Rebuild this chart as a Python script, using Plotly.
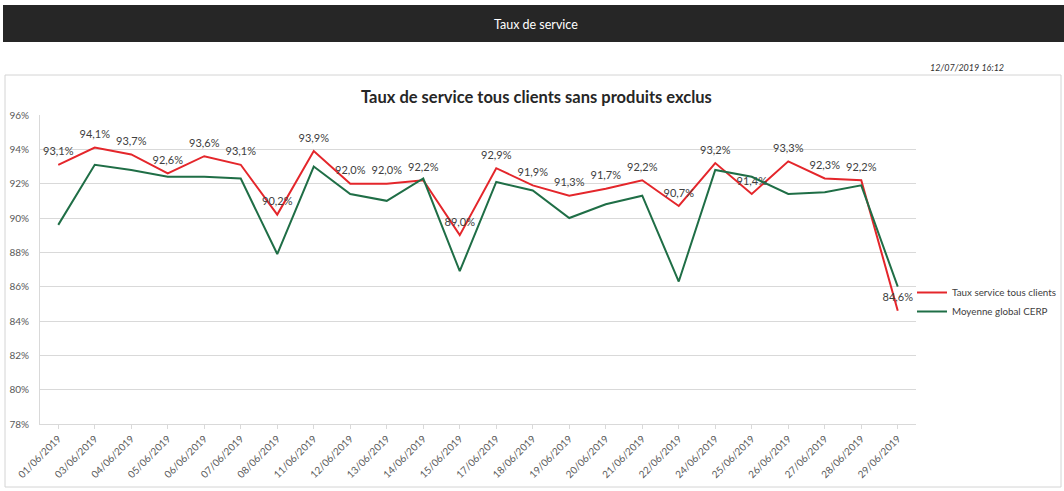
import plotly.graph_objects as go

dates = ["01/06/2019", "03/06/2019", "04/06/2019", "05/06/2019", "06/06/2019", "07/06/2019",
         "08/06/2019", "11/06/2019", "12/06/2019", "13/06/2019", "14/06/2019", "15/06/2019",
         "17/06/2019", "18/06/2019", "19/06/2019", "20/06/2019", "21/06/2019", "22/06/2019",
         "24/06/2019", "25/06/2019", "26/06/2019", "27/06/2019", "28/06/2019", "29/06/2019"]
taux_service = [93.1, 94.1, 93.7, 92.6, 93.6, 93.1, 90.2, 93.9, 92.0, 92.0, 92.2, 89.0,
                92.9, 91.9, 91.3, 91.7, 92.2, 90.7, 93.2, 91.4, 93.3, 92.3, 92.2, 84.6]
moyenne_cerp = [89.6, 93.1, 92.8, 92.4, 92.4, 92.3, 87.9, 93.0, 91.4, 91.0, 92.3, 86.9,
                92.1, 91.6, 90.0, 90.8, 91.3, 86.3, 92.8, 92.4, 91.4, 91.5, 91.9, 86.0]
y_ticks = [78, 80, 82, 84, 86, 88, 90, 92, 94, 96]

FONT = "Lato, Open Sans, sans-serif"
RED = "#e4262b"
GREEN = "#1f6e46"

# plot area in pixels
L, R, T, B = 40, 916, 115, 424
W, H = R - L, B - T
def px(x): return (x - L) / W
def py(y): return (B - y) / H

fig = go.Figure()
fig.add_trace(go.Scatter(
    x=dates, y=taux_service, mode="lines+markers+text", name="Taux service tous clients",
    line=dict(color=RED, width=2),
    marker=dict(size=9, color="rgba(0,0,0,0)"),
    text=[f"{v:.1f}%".replace(".", ",") for v in taux_service],
    textposition="top center", textfont=dict(size=11, color="#404040", family=FONT),
    cliponaxis=False,
))
fig.add_trace(go.Scatter(
    x=dates, y=moyenne_cerp, mode="lines", name="Moyenne global CERP",
    line=dict(color=GREEN, width=2),
))

shapes = [
    # header bar
    dict(type="rect", xref="paper", yref="paper", x0=px(3), x1=px(1064), y0=py(42), y1=py(5),
         fillcolor="#262626", line=dict(width=0), layer="below"),
    # chart frame
    dict(type="rect", xref="paper", yref="paper", x0=px(5), x1=px(1061), y0=py(487), y1=py(75),
         fillcolor="rgba(0,0,0,0)", line=dict(color="#d4d4d4", width=1), layer="below"),
]
annotations = [
    dict(text="Taux de service", xref="paper", yref="paper", x=px(536), y=py(24),
         showarrow=False, font=dict(size=12.5, color="white", family=FONT), xanchor="center", yanchor="middle"),
    dict(text="<i>12/07/2019 16:12</i>", xref="paper", yref="paper", x=px(1006), y=py(68),
         showarrow=False, font=dict(size=9, color="#333333", family=FONT), xanchor="right", yanchor="middle"),
    dict(text="<b>Taux de service tous clients sans produits exclus</b>", xref="paper", yref="paper",
         x=px(536), y=py(97), showarrow=False, font=dict(size=16.5, color="#262626", family=FONT),
         xanchor="center", yanchor="middle"),
]

fig.update_layout(
    width=1064, height=491,
    margin=dict(l=L, r=1064 - R, t=T, b=491 - B, autoexpand=False),
    paper_bgcolor="white", plot_bgcolor="white",
    font=dict(family=FONT, color="#595959", size=10),
    shapes=shapes, annotations=annotations,
    showlegend=True,
    legend=dict(x=px(912), y=py(278), xanchor="left", yanchor="top",
                font=dict(size=9.8, color="#404040", family=FONT), itemwidth=30,
                bgcolor="rgba(0,0,0,0)", tracegroupgap=0),
    xaxis=dict(type="category", tickangle=-45, showgrid=False, showline=True,
               linecolor="#d9d9d9", ticks="outside", ticklen=4, tickcolor="#d9d9d9",
               tickfont=dict(size=10, color="#595959", family=FONT), range=[-0.5, 23.5]),
    yaxis=dict(range=[78, 96], tickvals=y_ticks, ticktext=[f"{v}%" for v in y_ticks],
               showgrid=True, gridcolor="#d9d9d9", gridwidth=1, zeroline=False,
               showline=True, linecolor="#d9d9d9", ticklabelstandoff=8,
               tickfont=dict(size=10, color="#595959", family=FONT)),
)

fig.write_html("out.html", config={"displayModeBar": False},
               post_script="document.body.style.margin='0';")
